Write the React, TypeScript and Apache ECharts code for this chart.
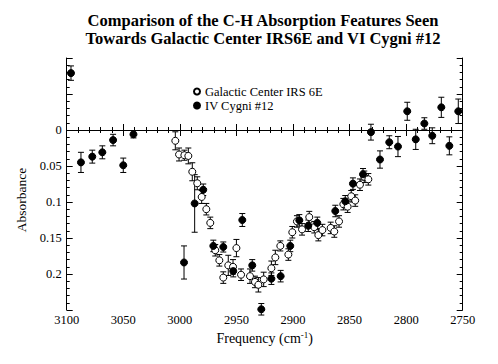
import React, { useEffect, useRef } from "react";
import * as echarts from "echarts";

const FONT = "Liberation Serif, Times New Roman, serif";

const titleLines = [
  "Comparison of the C-H Absorption Features Seen",
  "Towards Galactic Center IRS6E and VI Cygni #12",
];
const seriesNames = ["Galactic Center IRS 6E", "IV Cygni #12"];

// [frequency, absorbance, error]
const galacticCenter: number[][] = [
  [3004.0, 0.015, 0.0125],
  [3000.7, 0.034, 0.009],
  [2996.0, 0.035, 0.007],
  [2992.5, 0.036, 0.011],
  [2989.0, 0.058, 0.0125],
  [2984.6, 0.074, 0.009],
  [2980.7, 0.093, 0.009],
  [2976.6, 0.11, 0.008],
  [2973.1, 0.129, 0.008],
  [2968.7, 0.167, 0.008],
  [2965.1, 0.181, 0.008],
  [2961.6, 0.205, 0.008],
  [2957.2, 0.188, 0.014],
  [2953.0, 0.19, 0.01],
  [2950.0, 0.164, 0.012],
  [2945.9, 0.201, 0.008],
  [2938.0, 0.203, 0.01],
  [2933.6, 0.211, 0.008],
  [2930.6, 0.215, 0.01],
  [2925.9, 0.2075, 0.01],
  [2919.1, 0.192, 0.01],
  [2915.6, 0.177, 0.01],
  [2911.2, 0.161, 0.007],
  [2904.1, 0.173, 0.008],
  [2900.6, 0.142, 0.008],
  [2896.5, 0.127, 0.008],
  [2892.0, 0.138, 0.008],
  [2885.6, 0.121, 0.008],
  [2881.2, 0.135, 0.008],
  [2877.6, 0.146, 0.008],
  [2874.0, 0.139, 0.008],
  [2866.7, 0.136, 0.008],
  [2863.5, 0.141, 0.008],
  [2859.3, 0.127, 0.008],
  [2855.5, 0.103, 0.008],
  [2851.7, 0.1065, 0.008],
  [2848.5, 0.092, 0.008],
  [2845.0, 0.098, 0.008],
  [2840.8, 0.076, 0.008],
  [2837.0, 0.065, 0.008],
  [2833.4, 0.0685, 0.008],
];

const cygni: number[][] = [
  [3096.2, -0.079, 0.01],
  [3087.4, 0.045, 0.014],
  [3077.4, 0.037, 0.009],
  [3068.5, 0.031, 0.009],
  [3059.0, 0.014, 0.008],
  [3050.0, 0.049, 0.01],
  [3041.0, 0.006, 0.005],
  [2996.3, 0.184, 0.023],
  [2986.9, 0.102, 0.04],
  [2979.3, 0.083, 0.008],
  [2970.4, 0.161, 0.008],
  [2961.6, 0.1625, 0.007],
  [2952.8, 0.196, 0.008],
  [2944.8, 0.125, 0.009],
  [2936.0, 0.188, 0.008],
  [2928.0, 0.249, 0.008],
  [2919.1, 0.2065, 0.008],
  [2910.9, 0.203, 0.008],
  [2902.4, 0.161, 0.008],
  [2894.4, 0.1255, 0.008],
  [2886.5, 0.133, 0.008],
  [2878.5, 0.129, 0.008],
  [2862.6, 0.1125, 0.008],
  [2853.8, 0.099, 0.008],
  [2847.0, 0.0745, 0.008],
  [2838.1, 0.0615, 0.008],
  [2831.1, 0.003, 0.011],
  [2823.1, 0.041, 0.012],
  [2814.9, 0.017, 0.009],
  [2807.2, 0.023, 0.014],
  [2799.0, -0.026, 0.0125],
  [2791.5, 0.013, 0.014],
  [2783.9, -0.009, 0.008],
  [2776.9, 0.008, 0.011],
  [2768.9, -0.0315, 0.014],
  [2761.8, 0.022, 0.0125],
  [2753.9, -0.026, 0.017],
];

const xMin = 2750;
const xMax = 3100;
const xStep = 50;
const yMin = -0.1;
const yMax = 0.25;
const yStep = 0.05;

function errorRender(params: any, api: any) {
  const x = api.value(0);
  const y = api.value(1);
  const e = api.value(2);
  const p1 = api.coord([x, y - e]);
  const p2 = api.coord([x, y + e]);
  const c = 3;
  const style = { stroke: "#000", lineWidth: 1 };
  return {
    type: "group",
    children: [
      { type: "line", shape: { x1: p1[0], y1: p1[1], x2: p2[0], y2: p2[1] }, style },
      { type: "line", shape: { x1: p1[0] - c, y1: p1[1], x2: p1[0] + c, y2: p1[1] }, style },
      { type: "line", shape: { x1: p2[0] - c, y1: p2[1], x2: p2[0] + c, y2: p2[1] }, style },
    ],
  };
}

export default function App() {
  const ref = useRef<HTMLDivElement>(null);
  useEffect(() => {
    if (!ref.current) return;
    const chart = echarts.init(ref.current, null, { renderer: "svg" });
    const axisCommon = {
      axisLine: { show: true, lineStyle: { color: "#000", width: 1 } },
      axisTick: { show: true, inside: true, length: 6, lineStyle: { color: "#000" } },
      minorTick: { show: true, splitNumber: 5, length: 3, lineStyle: { color: "#000" } },
      splitLine: { show: false },
      minorSplitLine: { show: false },
    };
    const yFmt = (v: number) => {
      const r = Math.round(v * 100) / 100;
      if (r < 0 || r > 0.2) return "";
      return String(r);
    };
    const labelStyle = {
      color: "#000",
      fontFamily: FONT,
      fontSize: 12.5,
    };
    const titleStyle = (text: string) => ({
      text,
      fontFamily: FONT,
      fontWeight: "bold",
      fontSize: 16.5,
      fill: "#000",
      align: "center",
      verticalAlign: "middle",
    });
    chart.setOption({
      animation: false,
      backgroundColor: "#fff",
      textStyle: { fontFamily: FONT },
      legend: {
        orient: "vertical",
        left: 188,
        top: 80,
        itemGap: 1,
        itemWidth: 6,
        itemHeight: 6,
        icon: "circle",
        data: seriesNames,
        textStyle: { fontFamily: FONT, fontSize: 12.5, color: "#000" },
      },
      grid: { left: 66.7, right: 35.3, top: 58, bottom: 54, containLabel: false },
      xAxis: [
        {
          type: "value",
          min: xMin,
          max: xMax,
          interval: xStep,
          inverse: true,
          position: "bottom",
          name: "{a|Frequency (cm}{s|-1}{a|)}",
          nameLocation: "middle",
          nameGap: 19,
          nameTextStyle: {
            rich: {
              a: { fontFamily: FONT, fontSize: 14, color: "#000" },
              s: { fontFamily: FONT, fontSize: 9, color: "#000", verticalAlign: "top", padding: [0, 0, 7, 0] },
            },
          },
          axisLabel: { ...labelStyle, margin: 3, formatter: (v: number) => String(v) },
          ...axisCommon,
        },
        {
          type: "value",
          min: xMin,
          max: xMax,
          interval: xStep,
          inverse: true,
          position: "top",
          axisLabel: { show: false },
          ...axisCommon,
        },
      ],
      yAxis: [
        {
          type: "value",
          min: yMin,
          max: yMax,
          interval: yStep,
          inverse: true,
          position: "left",
          axisLabel: { ...labelStyle, margin: 5, formatter: yFmt },
          ...axisCommon,
        },
        {
          type: "value",
          min: yMin,
          max: yMax,
          interval: yStep,
          inverse: true,
          position: "right",
          axisLabel: { show: false },
          ...axisCommon,
        },
      ],
      graphic: [
        {
          type: "text",
          x: 263,
          y: 20,
          style: titleStyle(titleLines[0]),
        },
        {
          type: "text",
          x: 263,
          y: 38,
          style: titleStyle(titleLines[1]),
        },
        {
          type: "text",
          x: 21.5,
          y: 200,
          rotation: Math.PI / 2,
          style: {
            text: "Absorbance",
            fontFamily: FONT,
            fontSize: 13.5,
            fill: "#000",
            align: "center",
            verticalAlign: "middle",
          },
        },
      ],
      series: [
        {
          type: "custom",
          name: "gcErr",
          renderItem: errorRender,
          data: galacticCenter,
          encode: { x: 0, y: 1 },
          z: 1,
          silent: true,
        },
        {
          type: "custom",
          name: "cyErr",
          renderItem: errorRender,
          data: cygni,
          encode: { x: 0, y: 1 },
          z: 1,
          silent: true,
        },
        {
          type: "scatter",
          name: seriesNames[0],
          data: galacticCenter.map((d) => [d[0], d[1]]),
          symbol: "circle",
          symbolSize: 7,
          itemStyle: { color: "#fff", borderColor: "#000", borderWidth: 1, opacity: 1 },
          z: 2,
        },
        {
          type: "scatter",
          name: seriesNames[1],
          data: cygni.map((d) => [d[0], d[1]]),
          symbol: "circle",
          symbolSize: 7,
          itemStyle: { color: "#000", borderColor: "#000", borderWidth: 1, opacity: 1 },
          z: 3,
        },
      ],
    });
    return () => chart.dispose();
  }, []);
  return <div ref={ref} style={{ width: 498, height: 364, position: "absolute", left: 0, top: 0 }} />;
}
